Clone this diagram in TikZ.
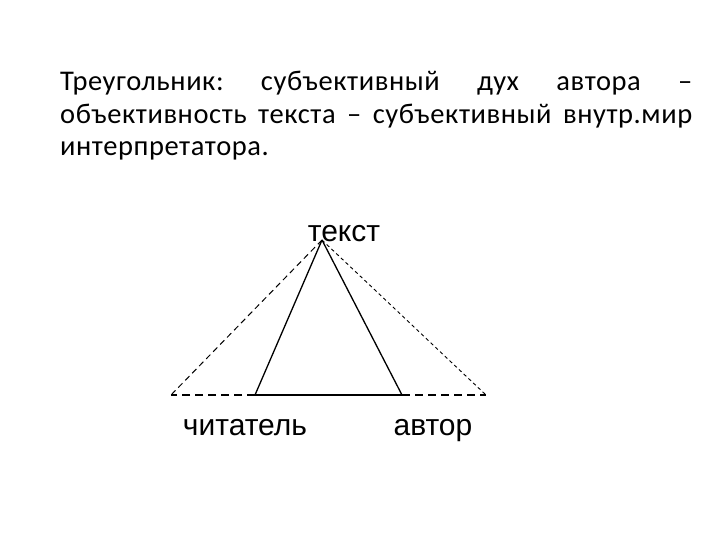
\documentclass[tikz,border=0pt]{standalone}
\usepackage{fontspec}
\newfontfamily\calib{Carlito}[LetterSpace=2]
\newfontfamily\arialf{Liberation Sans}
\frenchspacing
\begin{document}
\begin{tikzpicture}[x=1pt,y=-1pt,
  para/.style={anchor=base west,inner sep=0pt,font=\calib\fontsize{28.5}{33}\selectfont},
  lab/.style={anchor=base,inner sep=0pt,font=\arialf\fontsize{30}{33}\selectfont},
  solidside/.style={line width=1.3pt},
  solidbase/.style={line width=2.3pt},
  dashbase/.style={line width=2pt,dash pattern=on 8pt off 5pt},
  dashleft/.style={line width=1pt,dash pattern=on 6pt off 4pt},
  dashright/.style={line width=0.9pt,dash pattern=on 3.5pt off 3pt}]
\useasboundingbox (0,0) rectangle (720,540);
\fill[white] (0,0) rectangle (720,540);
\node[para] (l1) at (60,91) {\makebox[632pt][s]{Треугольник: субъективный дух автора –}};
\node[para] (l2) at (60,124) {\makebox[632pt][s]{объективность текста – субъективный внутр.мир}};
\node[para] (l3) at (60,156) {интерпретатора.};
\node[lab] (tekst) at (344,241) {текст};
\node[lab] (reader) at (245,435) {читатель};
\node[lab] (author) at (433,435) {автор};
\coordinate (apex) at (322,240);
\coordinate (ol) at (171,395);
\coordinate (il) at (255,395);
\coordinate (ir) at (402,395);
\coordinate (or) at (486,395);
\draw[solidside] (apex) -- (il);
\draw[solidside] (apex) -- (ir);
\draw[dashleft] (apex) -- (ol);
\draw[dashright] (apex) -- (or);
\draw[solidbase] (il) -- (ir);
\draw[dashbase] (il) -- (ol);
\draw[dashbase] (ir) -- (or);
\end{tikzpicture}
\end{document}
